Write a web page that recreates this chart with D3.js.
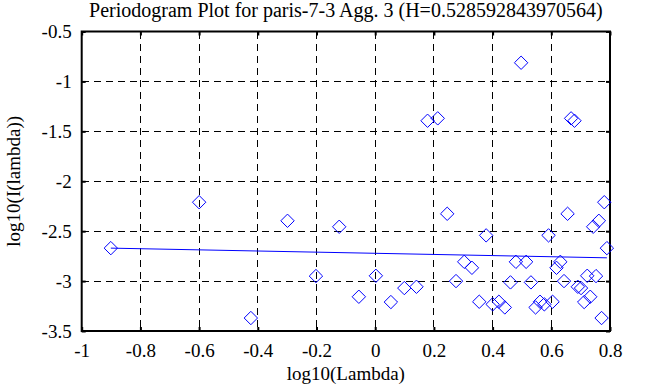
<!DOCTYPE html>
<html>
<head>
<meta charset="utf-8">
<script src="https://cdn.jsdelivr.net/npm/d3@7"></script>
<style>
  html, body { margin: 0; padding: 0; background: #fff; }
  svg { display: block; }
  text { font-family: "Liberation Serif", "Times New Roman", serif; fill: #000; }
</style>
</head>
<body>
<svg id="chart" width="647" height="387"></svg>
<script>
// log10(Lambda) for each periodogram ordinate
const logLambda = [
  -0.9008, -0.5998, -0.4237, -0.2988, -0.2019, -0.1226, -0.0557, 0.0023, 0.0534, 0.0992,
   0.1406,  0.1784,  0.2131,  0.2453,  0.2753,  0.3033,  0.3296, 0.3545, 0.3780, 0.4002,
   0.4214,  0.4416,  0.4609,  0.4794,  0.4971,  0.5142,  0.5306, 0.5464, 0.5616, 0.5763,
   0.5906,  0.6043,  0.6177,  0.6307,  0.6433,  0.6555,  0.6674, 0.6790, 0.6903, 0.7013,
   0.7120,  0.7224,  0.7327,  0.7427,  0.7524,  0.7620,  0.7713, 0.7805, 0.7894
];
// log10(I(lambda))
const logI = [
  -2.670, -2.210, -3.370, -2.396, -2.950, -2.456, -3.157, -2.947, -3.210, -3.070,
  -3.057, -1.394, -1.370, -2.326, -3.000, -2.807, -2.867, -3.207, -2.542, -3.233,
  -3.207, -3.264, -3.013, -2.807, -0.813, -2.807, -3.013, -3.264, -3.207, -3.233,
  -2.542, -3.207, -2.867, -2.807, -3.000, -2.326, -1.370, -1.394, -3.057, -3.070,
  -3.210, -2.947, -3.157, -2.456, -2.950, -2.396, -3.370, -2.210, -2.670
];
// fitted regression line end points
const fitX = [-0.9008, 0.7894];
const fitY = [-2.670, -2.767];

const xTicks = [-1, -0.8, -0.6, -0.4, -0.2, 0, 0.2, 0.4, 0.6, 0.8];
const yTicks = [-0.5, -1, -1.5, -2, -2.5, -3, -3.5];

const titleText = "Periodogram Plot for paris-7-3 Agg. 3 (H=0.528592843970564)";
const xLabel = "log10(Lambda)";
const yLabel = "log10(I(lambda))";

const FONT = '"Liberation Serif", "Times New Roman", serif';
const svg = d3.select("#chart");
const L = 81.7, R = 610, T = 31.5, B = 331;
const x = d3.scaleLinear().domain([-1, 0.8]).range([L, R]);
const y = d3.scaleLinear().domain([-3.5, -0.5]).range([B, T]);

const fmt = d => (d === 0 ? "0" : String(d));

// grid
const g = svg.append("g");
g.selectAll("line.vg").data(xTicks.slice(1, -1)).enter().append("line")
  .attr("x1", d => x(d)).attr("x2", d => x(d)).attr("y1", T).attr("y2", B)
  .attr("stroke", "#000").attr("stroke-width", 1).attr("stroke-dasharray", "7,5")
  .attr("shape-rendering", "crispEdges");
g.selectAll("line.hg").data(yTicks.slice(1, -1)).enter().append("line")
  .attr("x1", L).attr("x2", R).attr("y1", d => y(d)).attr("y2", d => y(d))
  .attr("stroke", "#000").attr("stroke-width", 1).attr("stroke-dasharray", "7,5")
  .attr("shape-rendering", "crispEdges");

// axes (ticks inward on all sides)
const tickLen = 4;
const axB = svg.append("g").attr("transform", `translate(0,${B})`)
  .call(d3.axisBottom(x).tickValues(xTicks).tickSizeInner(-tickLen).tickSizeOuter(0).tickPadding(13).tickFormat(fmt));
const axT = svg.append("g").attr("transform", `translate(0,${T})`)
  .call(d3.axisTop(x).tickValues(xTicks).tickSizeInner(-tickLen).tickSizeOuter(0).tickFormat(""));
const axL = svg.append("g").attr("transform", `translate(${L},0)`)
  .call(d3.axisLeft(y).tickValues(yTicks).tickSizeInner(-tickLen).tickSizeOuter(0).tickPadding(10).tickFormat(fmt));
const axR = svg.append("g").attr("transform", `translate(${R},0)`)
  .call(d3.axisRight(y).tickValues(yTicks).tickSizeInner(-tickLen).tickSizeOuter(0).tickFormat(""));
[axB, axT, axL, axR].forEach(a => {
  a.attr("font-family", null);
  a.select(".domain").remove();
  a.selectAll(".tick line").attr("stroke", "#000").attr("stroke-width", 2);
  a.selectAll(".tick text").style("font-family", FONT).style("font-size", "19px").attr("fill", "#000");
});
axB.selectAll(".tick text").attr("dy", "0.71em");

// frame
svg.append("rect").attr("x", L).attr("y", T).attr("width", R - L).attr("height", B - T)
  .attr("fill", "none").attr("stroke", "#000").attr("stroke-width", 2);

// fitted line
svg.append("line")
  .attr("x1", x(fitX[0])).attr("y1", y(fitY[0]))
  .attr("x2", x(fitX[1])).attr("y2", y(fitY[1]))
  .attr("stroke", "#0000ff").attr("stroke-width", 1);

// diamonds
const s = 6.7;
const pts = logLambda.map((v, i) => ({ x: v, y: logI[i] }));
svg.append("g").selectAll("path").data(pts).enter().append("path")
  .attr("d", d => {
    const cx = x(d.x), cy = y(d.y);
    return `M${cx},${cy - s}L${cx + s},${cy}L${cx},${cy + s}L${cx - s},${cy}Z`;
  })
  .attr("fill", "none").attr("stroke", "#0000ff").attr("stroke-width", 1);

// texts
svg.append("text").attr("x", (L + R) / 2).attr("y", 17).attr("text-anchor", "middle")
  .style("font-family", FONT).style("font-size", "20px").text(titleText);
svg.append("text").attr("x", (L + R) / 2).attr("y", 380).attr("text-anchor", "middle")
  .style("font-family", FONT).style("font-size", "19px").text(xLabel);
svg.append("text").attr("transform", `translate(20,${(T + B) / 2}) rotate(-90)`)
  .attr("text-anchor", "middle").style("font-family", FONT).style("font-size", "19px").text(yLabel);
</script>
</body>
</html>
